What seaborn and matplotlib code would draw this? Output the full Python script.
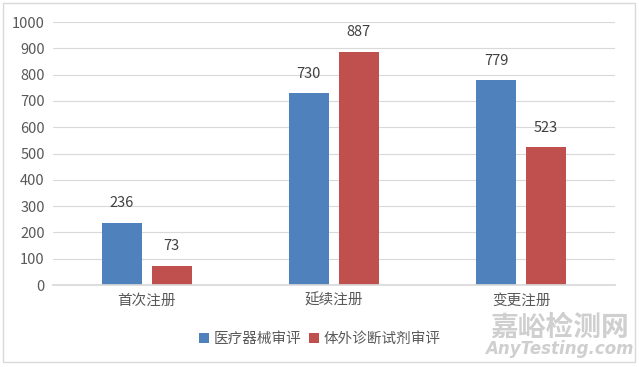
import matplotlib
matplotlib.use("Agg")
import matplotlib.pyplot as plt
from matplotlib.patches import Rectangle
import seaborn as sns
import pandas as pd

categories = ["首次注册", "延续注册", "变更注册"]
series = ["医疗器械审评", "体外诊断试剂审评"]
device_vals = [236, 730, 779]
ivd_vals = [73, 887, 523]

df = pd.DataFrame({
    "category": categories * 2,
    "series": [series[0]] * 3 + [series[1]] * 3,
    "value": device_vals + ivd_vals,
})

sns.set_theme(style="white")
plt.rcParams['font.family'] = ['Noto Sans CJK SC', 'DejaVu Sans']

fig = plt.figure(figsize=(6.39, 3.67), dpi=100)
ax = fig.add_axes([0.083, 0.2234, 0.879, 0.7166])

sns.barplot(data=df, x="category", y="value", hue="series",
            palette=["#4F81BD", "#C0504D"], width=0.533, gap=0.2,
            saturation=1, linewidth=0, ax=ax, legend=True)

for c in ax.containers:
    ax.bar_label(c, padding=9, fontsize=10.5, color="#404040")

ax.set_ylim(0, 1000)
ax.set_yticks(range(0, 1001, 100))
ax.yaxis.grid(True, color="#D9D9D9", linewidth=0.8)
ax.set_axisbelow(True)
for s in ["top", "right", "left"]:
    ax.spines[s].set_visible(False)
ax.spines["bottom"].set_color("#D9D9D9")
ax.tick_params(axis="both", length=0, labelsize=10.5, colors="#595959", pad=6)
ax.set_xlabel("")
ax.set_ylabel("")

ax.legend(loc="center", bbox_to_anchor=(0.5, 0.0755), bbox_transform=fig.transFigure,
          ncol=2, frameon=False, fontsize=10.5, handlelength=0.7, handleheight=0.7,
          handletextpad=0.3, columnspacing=0.5, labelcolor="#595959")

# figure border
fig.patches.append(Rectangle((0.005, 0.014), 0.988, 0.978, transform=fig.transFigure,
                             fill=False, edgecolor="#D9D9D9", linewidth=1))

# watermark
fig.text(0.876, 0.108, "嘉峪检测网", fontsize=20, color="#CFCFCF", ha="center", va="center",
         weight="bold")
fig.text(0.876, 0.048, "AnyTesting.com", fontsize=12, color="#CFCFCF", style="italic",
         weight="bold", ha="center", va="center", family="DejaVu Sans")

fig.savefig("out.png", dpi=100)
